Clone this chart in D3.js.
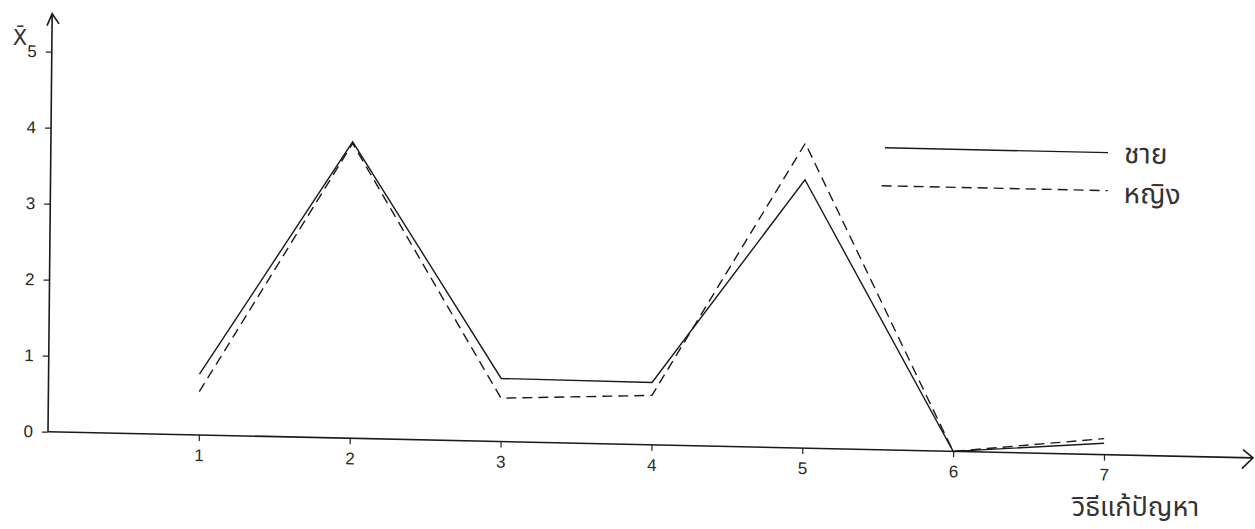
<!DOCTYPE html>
<html>
<head>
<meta charset="utf-8">
<script src="https://cdn.jsdelivr.net/npm/d3@7"></script>
<style>
  html, body { margin: 0; padding: 0; background: #fff; }
  svg { display: block; }
  .thai { font-family: "Noto Sans Thai", "Noto Serif Thai", "Loma", "Garuda", "Norasi", sans-serif; fill: #333; }
</style>
</head>
<body>
<svg id="chart" width="1255" height="529"></svg>
<script>
// values (mean score per method, male vs female)
const categories = [1, 2, 3, 4, 5, 6, 7];
const maleValues = [0.80, 3.90, 0.83, 0.82, 3.53, 0, 0.15];
const femaleValues = [0.57, 3.88, 0.57, 0.65, 4.01, 0, 0.21];
const yTicks = [0, 1, 2, 3, 4, 5];
const seriesNames = ['ชาย', 'หญิง'];
const xTitle = 'วิธีแก้ปัญหา';
const yTitle = 'X̄';

const svg = d3.select('#chart');

// the scan is a little skewed, so the whole plot sits in a slightly tilted group
const plot = svg.append('g')
    .attr('transform', 'matrix(1,0.0217,-0.01,1,48,431.7)');

const x = d3.scaleLinear().domain([0, 7]).range([0, 1056]);
const y = d3.scaleLinear().domain([0, 5]).range([0, -380]);

// style the tick marks and numbers like the typed originals
function styleAxis(g) {
  g.select('.domain').remove();
  g.selectAll('.tick line').attr('stroke', '#222').attr('stroke-width', 1.2);
  g.selectAll('.tick text')
      .style('font-family', '"Liberation Sans", Arial, sans-serif')
      .style('font-size', '17px')
      .style('fill', '#2a2a2a');
}

plot.append('g')
    .call(d3.axisBottom(x).tickValues(categories).tickSize(6).tickPadding(8).tickFormat(d3.format('d')))
    .call(styleAxis);

plot.append('g')
    .call(d3.axisLeft(y).tickValues(yTicks).tickSize(6).tickPadding(9).tickFormat(d3.format('d')))
    .call(styleAxis);

// axis lines with open arrow heads
plot.append('path')
    .attr('d', 'M0,0H1205M1195,-8L1205,0L1194,11')
    .attr('fill', 'none').attr('stroke', '#1a1a1a').attr('stroke-width', 1.6);
plot.append('path')
    .attr('d', 'M0,0V-418M-5,-406L0,-418L7,-408')
    .attr('fill', 'none').attr('stroke', '#1a1a1a').attr('stroke-width', 1.6);

// series lines
const line = d3.line()
    .x((d, i) => x(categories[i]))
    .y(d => y(d));

plot.append('path')
    .datum(maleValues)
    .attr('d', line)
    .attr('fill', 'none')
    .attr('stroke', '#1a1a1a')
    .attr('stroke-width', 1.4);

plot.append('path')
    .datum(femaleValues)
    .attr('d', line)
    .attr('fill', 'none')
    .attr('stroke', '#1a1a1a')
    .attr('stroke-width', 1.4)
    .attr('stroke-dasharray', '10,6');

// legend
const legend = plot.append('g');
legend.append('line')
    .attr('x1', 834).attr('x2', 1057).attr('y1', -302).attr('y2', -302)
    .attr('stroke', '#1a1a1a').attr('stroke-width', 1.4);
legend.append('line')
    .attr('x1', 831).attr('x2', 1057).attr('y1', -264).attr('y2', -264)
    .attr('stroke', '#1a1a1a').attr('stroke-width', 1.4)
    .attr('stroke-dasharray', '10,6');
legend.append('text')
    .attr('class', 'thai')
    .attr('x', 1073).attr('y', -292)
    .style('font-size', '28px')
    .text(seriesNames[0]);
legend.append('text')
    .attr('class', 'thai')
    .attr('x', 1073).attr('y', -252)
    .style('font-size', '28px')
    .text(seriesNames[1]);

// titles
svg.append('text')
    .attr('class', 'thai')
    .attr('x', 1072).attr('y', 516)
    .style('font-size', '27px')
    .text(xTitle);

svg.append('text')
    .attr('x', 20).attr('y', 45)
    .attr('text-anchor', 'middle')
    .style('font-family', '"DejaVu Sans", sans-serif')
    .style('font-size', '21px')
    .style('fill', '#333')
    .text(yTitle);
</script>
</body>
</html>
